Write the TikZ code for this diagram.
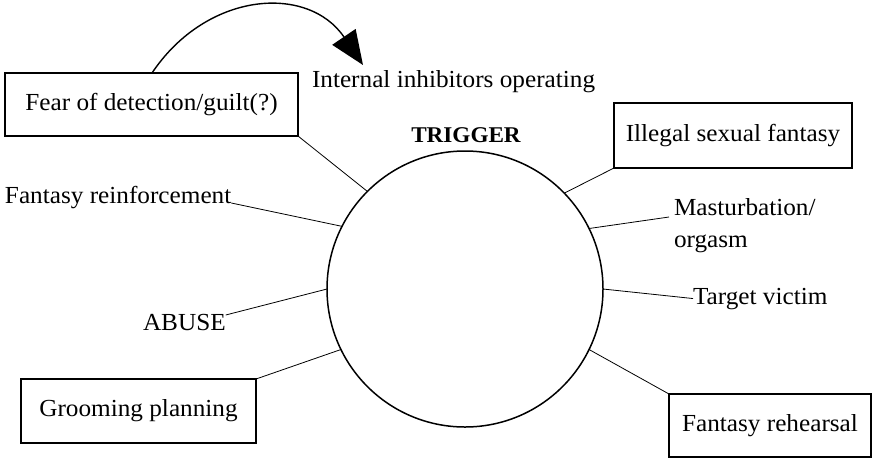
\documentclass[tikz,border=0pt]{standalone}
\usepackage{fontspec}
\setmainfont{Liberation Serif}[FakeStretch=1.03]
\usetikzlibrary{arrows.meta}
\begin{document}
\begin{tikzpicture}[x=1pt,y=-1pt,
  every node/.style={inner sep=0pt,outer sep=0pt},
  stage/.style={draw,line width=1.4pt,font=\fontsize{24.5}{28}\selectfont},
  lbl/.style={font=\fontsize{24.5}{32}\selectfont},
  spoke/.style={line width=0.8pt}]
\useasboundingbox (0,0) rectangle (872,459);

% central circle and its title
\node[circle,draw,line width=1.5pt,minimum size=276pt] (trig) at (465,289) {};
\node[font=\fontsize{22.5}{26}\selectfont\bfseries,anchor=base] (title) at (466,142) {TRIGGER};

% boxed stages
\node[stage,minimum width=293pt,minimum height=63pt] (fear) at (151.5,104.5) {Fear of detection/guilt(?)};
\node[stage,minimum width=238pt,minimum height=65pt] (illegal) at (733,135.5) {Illegal sexual fantasy};
\node[stage,minimum width=235pt,minimum height=64pt] (groom) at (138.5,411) {Grooming planning};
\node[stage,minimum width=202pt,minimum height=63pt] (rehearse) at (770,425.5) {Fantasy rehearsal};

% plain labels
\node[lbl,anchor=base west] (inhib) at (312,87) {Internal inhibitors operating};
\node[lbl,anchor=base west] (reinf) at (5,203) {Fantasy reinforcement};
\node[lbl,anchor=base west] (abuse) at (143,330) {ABUSE};
\node[lbl,anchor=base west,align=left] (mast) at (674,247) {Masturbation/\\orgasm};
\node[lbl,anchor=base west] (target) at (693,304) {Target victim};
\coordinate (mastend) at (669,217);

% spokes to the circle
\draw[spoke] (fear.south east) -- (trig.135);
\draw[spoke] (reinf.base east) -- (trig.153.6);
\draw[spoke] ([yshift=15pt]abuse.base east) -- (trig.180);
\draw[spoke] (groom.north east) -- (trig.206.7);
\draw[spoke] (illegal.south west) -- (trig.44.7);
\draw[spoke] (mastend) -- (trig.26);
\draw[spoke] (target.west) -- (trig.0);
\draw[spoke] (rehearse.north west) -- (trig.-26.6);

% arc from the fear box towards the inhibitors
\draw[line width=1.4pt,-{Triangle[length=34pt,width=28pt]}]
  ([xshift=0.5pt]fear.north) .. controls (207,-9) and (308,-16) .. ([xshift=51pt,yshift=22pt]inhib.base west);
\end{tikzpicture}
\end{document}
